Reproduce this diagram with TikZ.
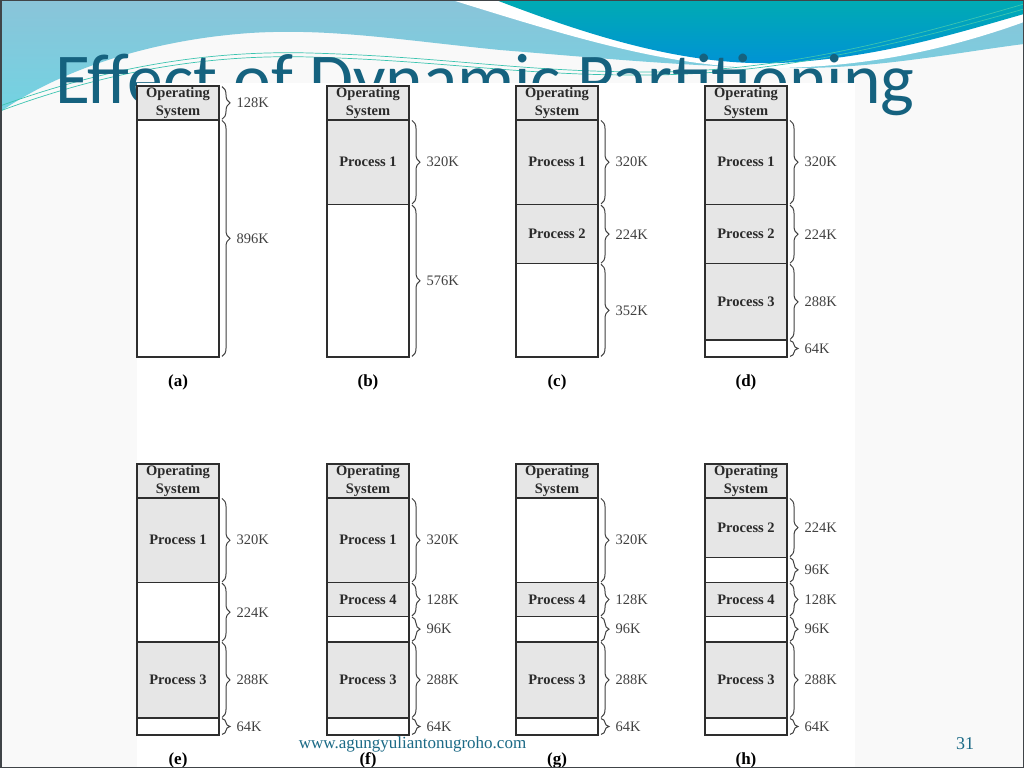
\documentclass[tikz,border=0pt]{standalone}
\usepackage{fontspec}
\setmainfont{Liberation Serif}
\newfontfamily\titlefont{Carlito}
\usetikzlibrary{decorations.pathreplacing}
\definecolor{slidebg}{HTML}{F9F9F9}
\definecolor{lbtop}{HTML}{8AC4D9}
\definecolor{lbbot}{HTML}{72D3E2}
\definecolor{tltop}{HTML}{00ABB3}
\definecolor{tlbot}{HTML}{0092D6}
\definecolor{wavelines}{HTML}{3CC4B0}
\definecolor{titlecol}{HTML}{15627F}
\definecolor{footcol}{HTML}{1B6A86}
\definecolor{framecol}{HTML}{404448}
\definecolor{boxline}{HTML}{2E2E2E}
\definecolor{usedgray}{HTML}{E6E6E6}
\definecolor{txtcol}{HTML}{2A2A2A}
\definecolor{szcol}{HTML}{404040}
\newcommand\sg[5]{\node[#1, minimum height=#2*0.26465pt] (#3) at (#4) {#5};}
\newcommand\bracelbl[3]{\draw[brc] ([xshift=3pt,yshift=-0.6pt]#1.north east) -- ([xshift=3pt,yshift=0.6pt]#1.south east) node[sz, midway, xshift=14pt] (#2) {#3};}
\begin{document}
\begin{tikzpicture}[x=1pt,y=-1pt,
  seg/.style={draw=boxline, line width=1.3pt, minimum width=82pt, inner sep=0pt, outer sep=0pt,
    anchor=north west, align=center, text=txtcol, font=\bfseries\fontsize{14.5}{17.5}\selectfont},
  used/.style={seg, fill=usedgray},
  free/.style={seg, fill=white},
  brc/.style={decorate, decoration={brace, amplitude=8pt}, draw=szcol, line width=1pt},
  sz/.style={anchor=west, inner sep=0pt, text=szcol, font=\fontsize{14.5}{16}\selectfont},
  caplbl/.style={inner sep=0pt, text=black, font=\bfseries\fontsize{17}{20}\selectfont}]
\useasboundingbox (0,0) rectangle (1024,768);
% slide background
\fill[slidebg] (0,0) rectangle (1024,768);
\shade[top color=lbtop, bottom color=lbbot] (0,0) -- (1024,0) -- (1024,44)
  .. controls (960,52) and (880,68) .. (800,68)
  .. controls (700,68) and (600,58) .. (500,50)
  .. controls (400,40) and (330,28) .. (250,33)
  .. controls (150,40) and (60,70) .. (0,112) -- cycle;
\fill[white] (452,0) -- (1024,0) -- (1024,22)
  .. controls (960,45) and (880,66) .. (780,68)
  .. controls (680,70) and (580,40) .. (452,0) -- cycle;
\shade[top color=tltop, bottom color=tlbot] (496,0) -- (1024,0) -- (1024,14)
  .. controls (960,32) and (880,58) .. (780,63)
  .. controls (690,66) and (600,40) .. (496,0) -- cycle;
\draw[wavelines, line width=0.7pt] (0,106) .. controls (100,70) and (200,50) .. (310,53)
  .. controls (450,57) and (520,72) .. (650,72) .. controls (780,72) and (900,40) .. (1024,4);
\draw[wavelines, line width=0.7pt] (0,111) .. controls (100,74) and (200,54) .. (310,57)
  .. controls (450,61) and (520,76) .. (650,75) .. controls (780,74) and (900,44) .. (1024,9);
% title
\node[anchor=base west, inner sep=0pt, text=titlecol, font=\titlefont\fontsize{71.5}{71.5}\selectfont] (title) at (55,103) {Effect of Dynamic Partitioning};
% pasted figure area
\fill[white] (137,83) rectangle (855,768);
% ---- (a)
\sg{used}{128}{a1}{137,86}{Operating\\System}
\sg{free}{896}{a2}{a1.south west}{}
\bracelbl{a1}{a1l}{128K}
\bracelbl{a2}{a2l}{896K}
\node[caplbl] (acap) at (178,382) {(a)};
% ---- (b)
\sg{used}{128}{b1}{327,86}{Operating\\System}
\sg{used}{320}{b2}{b1.south west}{Process 1}
\sg{free}{576}{b3}{b2.south west}{}
\bracelbl{b2}{b2l}{320K}
\bracelbl{b3}{b3l}{576K}
\node[caplbl] (bcap) at (368,382) {(b)};
% ---- (c)
\sg{used}{128}{c1}{516,86}{Operating\\System}
\sg{used}{320}{c2}{c1.south west}{Process 1}
\sg{used}{224}{c3}{c2.south west}{Process 2}
\sg{free}{352}{c4}{c3.south west}{}
\bracelbl{c2}{c2l}{320K}
\bracelbl{c3}{c3l}{224K}
\bracelbl{c4}{c4l}{352K}
\node[caplbl] (ccap) at (557,382) {(c)};
% ---- (d)
\sg{used}{128}{d1}{705,86}{Operating\\System}
\sg{used}{320}{d2}{d1.south west}{Process 1}
\sg{used}{224}{d3}{d2.south west}{Process 2}
\sg{used}{288}{d4}{d3.south west}{Process 3}
\sg{free}{64}{d5}{d4.south west}{}
\bracelbl{d2}{d2l}{320K}
\bracelbl{d3}{d3l}{224K}
\bracelbl{d4}{d4l}{288K}
\bracelbl{d5}{d5l}{64K}
\node[caplbl] (dcap) at (746,382) {(d)};
% ---- (e)
\sg{used}{128}{e1}{137,464}{Operating\\System}
\sg{used}{320}{e2}{e1.south west}{Process 1}
\sg{free}{224}{e3}{e2.south west}{}
\sg{used}{288}{e4}{e3.south west}{Process 3}
\sg{free}{64}{e5}{e4.south west}{}
\bracelbl{e2}{e2l}{320K}
\bracelbl{e3}{e3l}{224K}
\bracelbl{e4}{e4l}{288K}
\bracelbl{e5}{e5l}{64K}
\node[caplbl] (ecap) at (178,760) {(e)};
% ---- (f)
\sg{used}{128}{f1}{327,464}{Operating\\System}
\sg{used}{320}{f2}{f1.south west}{Process 1}
\sg{used}{128}{f3}{f2.south west}{Process 4}
\sg{free}{96}{f4}{f3.south west}{}
\sg{used}{288}{f5}{f4.south west}{Process 3}
\sg{free}{64}{f6}{f5.south west}{}
\bracelbl{f2}{f2l}{320K}
\bracelbl{f3}{f3l}{128K}
\bracelbl{f4}{f4l}{96K}
\bracelbl{f5}{f5l}{288K}
\bracelbl{f6}{f6l}{64K}
\node[caplbl] (fcap) at (368,760) {(f)};
% ---- (g)
\sg{used}{128}{g1}{516,464}{Operating\\System}
\sg{free}{320}{g2}{g1.south west}{}
\sg{used}{128}{g3}{g2.south west}{Process 4}
\sg{free}{96}{g4}{g3.south west}{}
\sg{used}{288}{g5}{g4.south west}{Process 3}
\sg{free}{64}{g6}{g5.south west}{}
\bracelbl{g2}{g2l}{320K}
\bracelbl{g3}{g3l}{128K}
\bracelbl{g4}{g4l}{96K}
\bracelbl{g5}{g5l}{288K}
\bracelbl{g6}{g6l}{64K}
\node[caplbl] (gcap) at (557,760) {(g)};
% ---- (h)
\sg{used}{128}{h1}{705,464}{Operating\\System}
\sg{used}{224}{h2}{h1.south west}{Process 2}
\sg{free}{96}{h3}{h2.south west}{}
\sg{used}{128}{h4}{h3.south west}{Process 4}
\sg{free}{96}{h5}{h4.south west}{}
\sg{used}{288}{h6}{h5.south west}{Process 3}
\sg{free}{64}{h7}{h6.south west}{}
\bracelbl{h2}{h2l}{224K}
\bracelbl{h3}{h3l}{96K}
\bracelbl{h4}{h4l}{128K}
\bracelbl{h5}{h5l}{96K}
\bracelbl{h6}{h6l}{288K}
\bracelbl{h7}{h7l}{64K}
\node[caplbl] (hcap) at (746,760) {(h)};
% footer
\node[anchor=base, inner sep=0pt, text=footcol, font=\fontsize{17}{17}\selectfont] (url) at (412.5,748) {www.agungyuliantonugroho.com};
\node[anchor=base, inner sep=0pt, text=footcol, font=\fontsize{18}{18}\selectfont] (pgnum) at (965,749) {31};
% slide frame
\draw[framecol, line width=1.5pt] (0.75,0.75) rectangle (1023.25,767.25);
\end{tikzpicture}
\end{document}
